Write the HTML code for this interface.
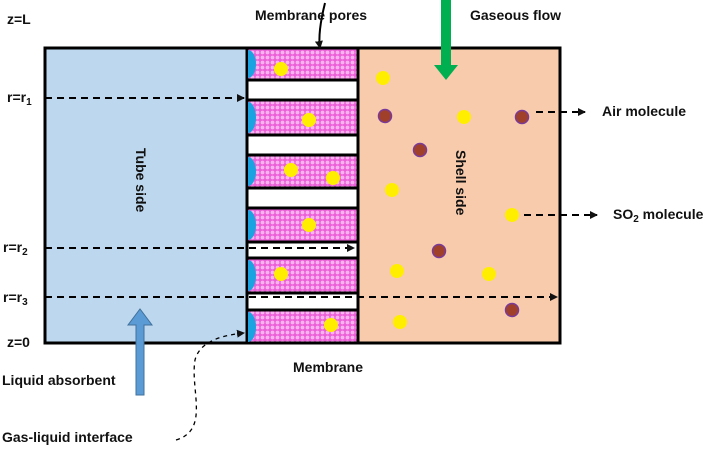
<!DOCTYPE html>
<html><head><style>body{margin:0;background:#fff}svg{display:block}text{font-family:"Liberation Sans",sans-serif;font-weight:bold;font-size:14px;fill:#111}</style></head>
<body>
<svg width="709" height="451" viewBox="0 0 709 451" xmlns="http://www.w3.org/2000/svg">
<defs>
<pattern id="pk" width="5" height="5" patternUnits="userSpaceOnUse">
<rect width="5" height="5" fill="#ec5fd8"/><circle cx="2.5" cy="2.5" r="1.9" fill="#f7b3ef"/></pattern>
<marker id="ah" markerWidth="8" markerHeight="8" refX="7" refY="4" orient="auto" markerUnits="userSpaceOnUse"><path d="M0,0 L8,4 L0,8z" fill="#111"/></marker>
</defs>
<rect x="45" y="48" width="202" height="295" fill="#bdd7ee"/>
<rect x="358" y="48" width="202" height="295" fill="#f8cbad"/>
<rect x="247" y="48" width="111" height="295" fill="url(#pk)"/>
<g fill="#fff" stroke="#000" stroke-width="3">
<rect x="247" y="80" width="111" height="20"/>
<rect x="247" y="135" width="111" height="20"/>
<rect x="247" y="188" width="111" height="20"/>
<rect x="247" y="242" width="111" height="16"/>
<rect x="247" y="293" width="111" height="17"/>
</g>
<rect x="45" y="48" width="515" height="295" fill="none" stroke="#000" stroke-width="3"/>
<line x1="247" y1="48" x2="247" y2="343" stroke="#000" stroke-width="3"/>
<line x1="358" y1="48" x2="358" y2="343" stroke="#000" stroke-width="3"/>
<g fill="#1aa3e0">
<path d="M248,50 A8,14 0 0 1 248,78z"/><path d="M248,102 A8,15.5 0 0 1 248,133z"/><path d="M248,157 A8,14.5 0 0 1 248,186z"/>
<path d="M248,210 A8,15 0 0 1 248,240z"/><path d="M248,260 A8,15.5 0 0 1 248,291z"/><path d="M248,312 A8,15 0 0 1 248,342z"/>
</g>
<g fill="#ffee00">
<circle cx="281" cy="69" r="7"/><circle cx="309" cy="120" r="7"/><circle cx="291" cy="170" r="7"/><circle cx="333" cy="178" r="7"/>
<circle cx="309" cy="225" r="7"/><circle cx="281" cy="274" r="7"/><circle cx="331" cy="325" r="7"/>
<circle cx="383" cy="78" r="7"/><circle cx="464" cy="117" r="7"/><circle cx="392" cy="190" r="7"/><circle cx="512" cy="215" r="7"/>
<circle cx="397" cy="271" r="7"/><circle cx="489" cy="274" r="7"/><circle cx="400" cy="322" r="7"/>
</g>
<g fill="#a0402a" stroke="#7a3a9a" stroke-width="1.5">
<circle cx="385" cy="116" r="6.5"/><circle cx="522" cy="117" r="6.5"/><circle cx="420" cy="150" r="6.5"/><circle cx="439" cy="251" r="6.5"/><circle cx="512" cy="310" r="6.5"/>
</g>
<g stroke="#000" stroke-width="2" stroke-dasharray="7,5" fill="none">
<line x1="45" y1="98" x2="244" y2="98" marker-end="url(#ah)"/>
<line x1="45" y1="248" x2="354" y2="248" marker-end="url(#ah)"/>
<line x1="45" y1="297" x2="557" y2="297" marker-end="url(#ah)"/>
<line x1="536" y1="112" x2="585" y2="112" marker-end="url(#ah)"/>
<line x1="524" y1="215" x2="597" y2="215" marker-end="url(#ah)"/>
<path d="M176,440 C210,430 190,390 195,360 C200,340 225,335 244,333" marker-end="url(#ah)" stroke-dasharray="4,4" stroke-width="1.3"/>
</g>
<path d="M325,3 C322,15 318,35 320,48" stroke="#000" stroke-width="2" fill="none" marker-end="url(#ah)"/>
<path d="M441,0 h10 v65 h7 l-12,15 l-12,-15 h7z" fill="#00b050"/>
<path d="M136,395 v-70 h-8 l12,-16 l12,16 h-8 v70z" fill="#5b9bd5" stroke="#41719c" stroke-width="1"/>
<text x="7" y="24">z=L</text>
<text x="7" y="102">r=r<tspan font-size="10" dy="3">1</tspan></text>
<text x="3" y="252">r=r<tspan font-size="10" dy="3">2</tspan></text>
<text x="3" y="302">r=r<tspan font-size="10" dy="3">3</tspan></text>
<text x="7" y="347">z=0</text>
<text x="2" y="385">Liquid absorbent</text>
<text x="2" y="442">Gas-liquid interface</text>
<text x="293" y="372">Membrane</text>
<text x="255" y="20">Membrane pores</text>
<text x="470" y="20">Gaseous flow</text>
<text x="602" y="116">Air molecule</text>
<text x="613" y="219">SO<tspan font-size="10" dy="3">2</tspan><tspan dy="-3"> molecule</tspan></text>
<text transform="translate(136,148) rotate(90)" font-weight="normal">Tube side</text>
<text transform="translate(456,150) rotate(90)" font-weight="normal">Shell side</text>
</svg>
</body></html>
